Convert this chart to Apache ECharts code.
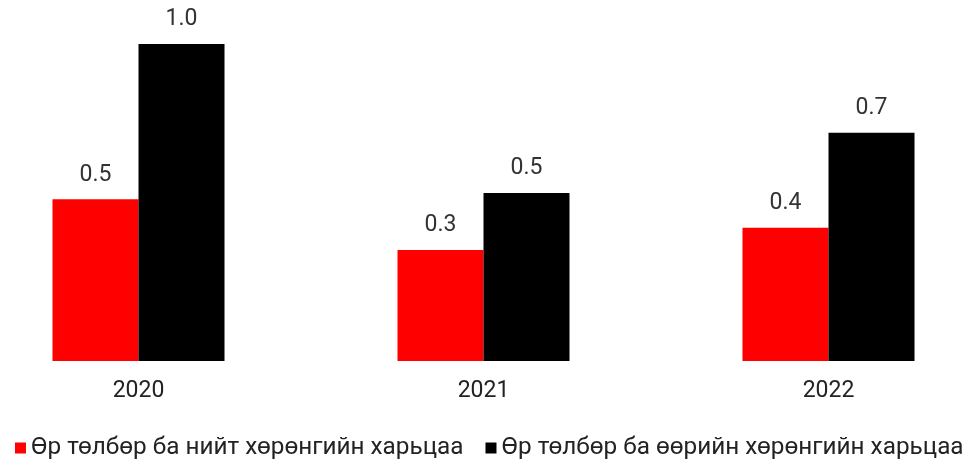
<!DOCTYPE html>
<html>
<head>
<meta charset="utf-8">
<script src="https://cdn.jsdelivr.net/npm/echarts@6/dist/echarts.min.js"></script>
<style>
  html, body { margin: 0; padding: 0; background: #fff; overflow: hidden; }
  /* plot is wider than the window: the outer bars sit close to the edges */
  #main { width: 1035px; height: 460px; margin-left: -34px; }
</style>
</head>
<body>
<div id="main"></div>
<script>
// ангилал ба утгууд
const years = ['2020', '2021', '2022'];
const totalRatio = [0.51, 0.35, 0.42];   // Өр төлбөр ба нийт хөрөнгийн харьцаа
const equityRatio = [1.0, 0.53, 0.72];   // Өр төлбөр ба өөрийн хөрөнгийн харьцаа
const seriesNames = ['Өр төлбөр ба нийт хөрөнгийн харьцаа', 'Өр төлбөр ба өөрийн хөрөнгийн харьцаа'];

const myChart = echarts.init(document.getElementById('main'));

const labelStyle = {
    show: true,
    position: 'top',
    distance: 13,
    color: '#333',
    fontSize: 23,
    fontFamily: 'Roboto',
    formatter: p => p.value.toFixed(1)
};

myChart.setOption({
    animation: false,
    backgroundColor: '#fff',
    grid: {
        left: 0,
        right: 0,
        top: 44,
        bottom: 99
    },
    legend: {
        left: 49,
        top: 436,
        padding: 0,
        itemWidth: 11,
        itemHeight: 11,
        itemGap: 22,
        icon: 'rect',
        textStyle: { fontSize: 24.3, fontFamily: 'Roboto', color: '#222' },
        data: seriesNames
    },
    xAxis: {
        type: 'category',
        data: years,
        axisLine: { show: false },
        axisTick: { show: false },
        axisLabel: { fontSize: 23, fontFamily: 'Roboto', color: '#222', margin: 19 }
    },
    yAxis: {
        type: 'value',
        min: 0,
        max: 1,
        show: false
    },
    series: [
        {
            name: seriesNames[0],
            type: 'bar',
            barWidth: 86,
            barGap: '0%',
            itemStyle: { color: '#ff0000' },
            label: labelStyle,
            data: totalRatio
        },
        {
            name: seriesNames[1],
            type: 'bar',
            barWidth: 86,
            barGap: '0%',
            itemStyle: { color: '#000000' },
            label: labelStyle,
            data: equityRatio
        }
    ]
});
</script>
</body>
</html>
